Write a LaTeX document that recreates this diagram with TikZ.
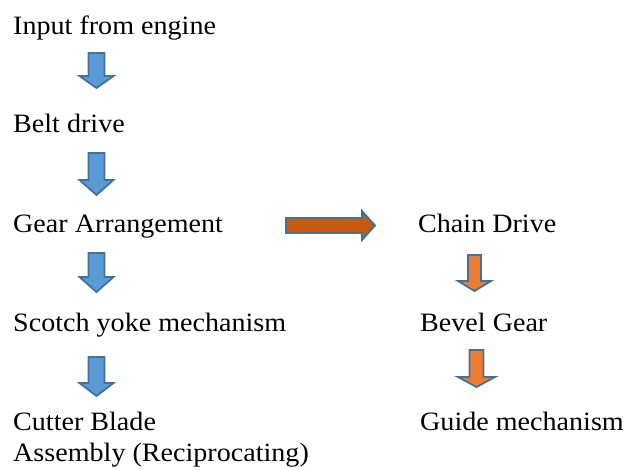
\documentclass[tikz,border=0pt]{standalone}
\usepackage{fontspec}
\setmainfont[FakeStretch=1.06]{Liberation Serif}
\definecolor{bfill}{HTML}{5B9BD5}
\definecolor{bline}{HTML}{41719C}
\definecolor{ofill}{HTML}{ED7D31}
\definecolor{dfill}{HTML}{C55A11}
\newcommand\mydown[7]{% cx top headbase tip shafthalf headhalf style
  \draw[#7] ({#1-#5},#2) -- ({#1+#5},#2) -- ({#1+#5},#3) -- ({#1+#6},#3) -- (#1,#4)
    -- ({#1-#6},#3) -- ({#1-#5},#3) -- cycle;}
\begin{document}
\begin{tikzpicture}[x=1pt,y=-1pt,
  lbl/.style={anchor=base west,inner sep=0pt,font=\fontsize{26.5}{30}\selectfont},
  barr/.style={draw=bline,fill=bfill,line width=1.8pt,line join=miter},
  oarr/.style={draw=bline,fill=ofill,line width=1.8pt,line join=miter},
  darr/.style={draw=bline,fill=dfill,line width=1.8pt,line join=miter}]
\useasboundingbox (0,0) rectangle (632,470);
\node[lbl] (input) at (13,35) {Input from engine};
\node[lbl] (belt) at (13,133) {Belt drive};
\node[lbl] (gear) at (13,233) {Gear Arrangement};
\node[lbl] (scotch) at (13,331) {Scotch yoke mechanism};
\node[lbl] (cutter) at (13,430) {Cutter Blade};
\node[lbl] (assembly) at (13,461) {Assembly (Reciprocating)};
\node[lbl] (chain) at (418,233) {Chain Drive};
\node[lbl] (bevel) at (420,331) {Bevel Gear};
\node[lbl] (guide) at (420,430) {Guide mechanism};
\mydown{96.5}{53}{76}{88}{8}{17}{barr}
\mydown{96.5}{153}{180}{195}{8}{17}{barr}
\mydown{96.5}{253}{277}{292}{8}{17}{barr}
\mydown{96.5}{357}{383}{396}{8}{17}{barr}
\mydown{474.5}{255}{281}{291}{6.5}{16.5}{oarr}
\mydown{476.5}{350}{377}{387}{7}{18.5}{oarr}
\draw[darr] (286,218) -- (362,218) -- (362,211) -- (375,225.5) -- (362,240) -- (362,233) -- (286,233) -- cycle;
\end{tikzpicture}
\end{document}
